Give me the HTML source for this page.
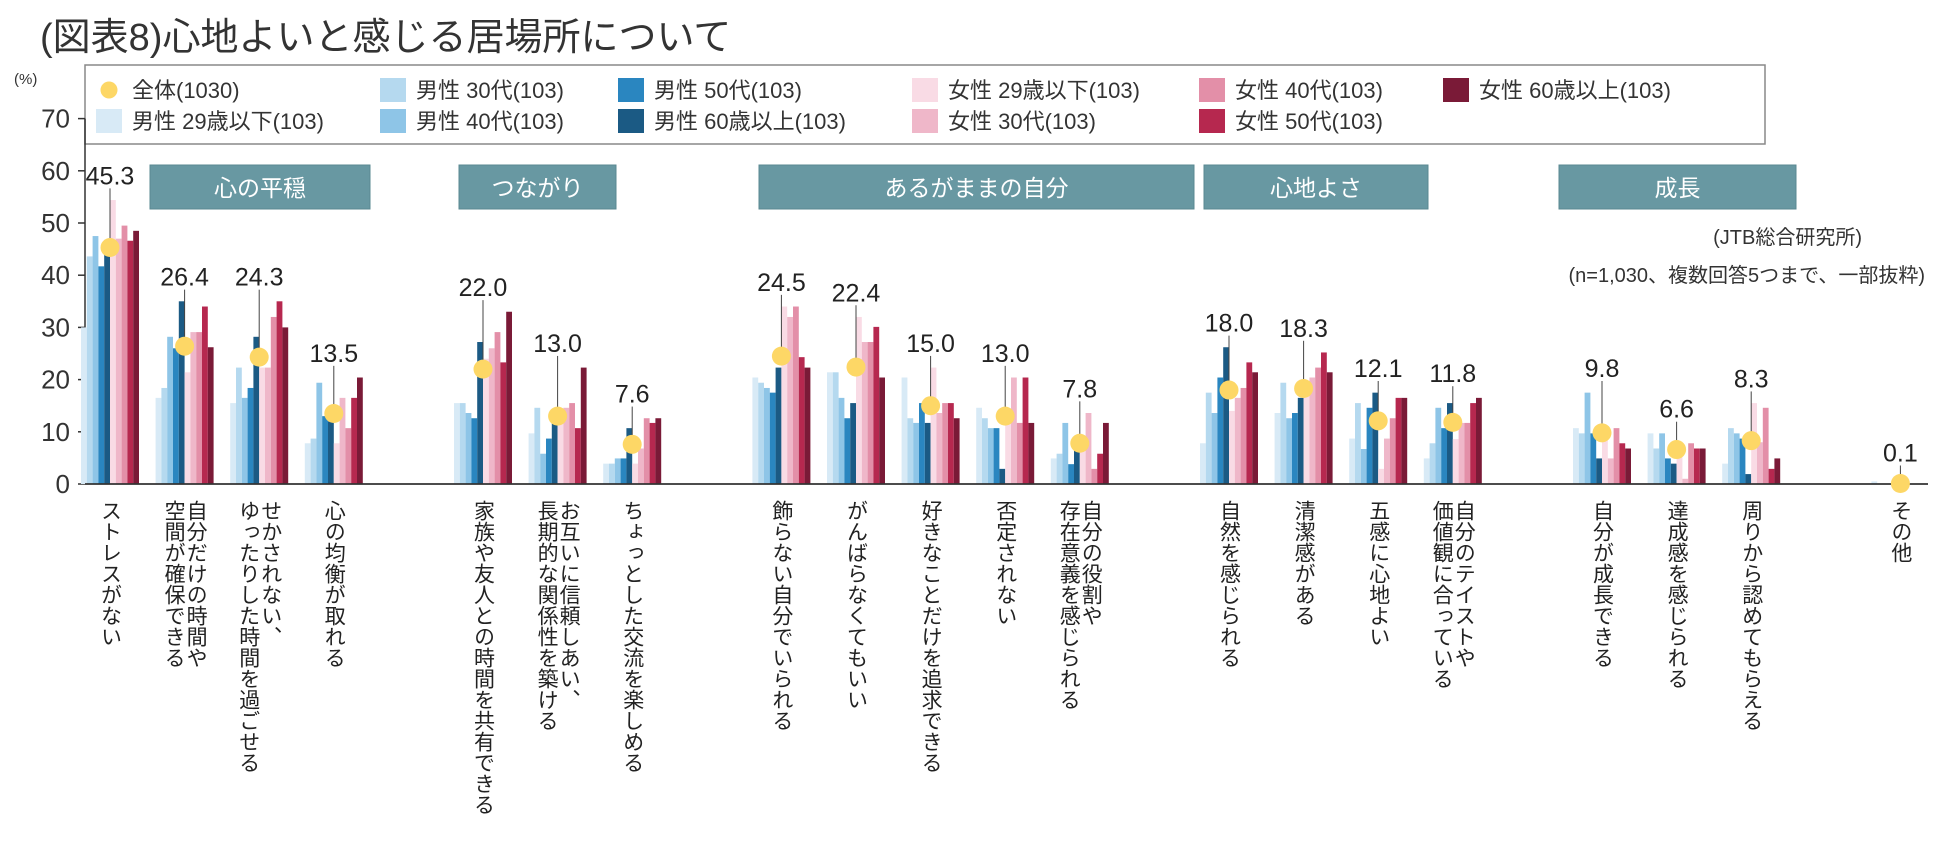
<!DOCTYPE html>
<html><head><meta charset="utf-8">
<style>
html,body{margin:0;padding:0;background:#fff;}
body{width:1950px;height:846px;overflow:hidden;font-family:"Liberation Sans","Noto Sans CJK JP",sans-serif;}
svg text{font-family:"Liberation Sans","Noto Sans CJK JP",sans-serif;}
</style></head>
<body>
<svg id="chart" width="1950" height="846" viewBox="0 0 1950 846" xmlns="http://www.w3.org/2000/svg">
<text x="40" y="50" font-size="38" fill="#333">(図表8)心地よいと感じる居場所について</text>
<text x="14" y="84" font-size="15" fill="#333">(%)</text>
<g id="legend"></g>
<g id="groups"></g>
<text x="1862" y="244" font-size="20" fill="#333" text-anchor="end">(JTB総合研究所)</text>
<text x="1925" y="282" font-size="20" fill="#333" text-anchor="end">(n=1,030、複数回答5つまで、一部抜粋)</text>
<g id="plot"></g>
</svg>
<script>
const categories=["ストレスがない","自分だけの時間や|空間が確保できる","せかされない、|ゆったりした時間を過ごせる","心の均衡が取れる","家族や友人との時間を共有できる","お互いに信頼しあい、|長期的な関係性を築ける","ちょっとした交流を楽しめる","飾らない自分でいられる","がんばらなくてもいい","好きなことだけを追求できる","否定されない","自分の役割や|存在意義を感じられる","自然を感じられる","清潔感がある","五感に心地よい","自分のテイストや|価値観に合っている","自分が成長できる","達成感を感じられる","周りから認めてもらえる","その他"];
const slots=[0,1,2,3,5,6,7,9,10,11,12,13,15,16,17,18,20,21,22,24];
const overall=[45.3,26.4,24.3,13.5,22.0,13.0,7.6,24.5,22.4,15.0,13.0,7.8,18.0,18.3,12.1,11.8,9.8,6.6,8.3,0.1];
const m29=[30,16.5,15.5,7.8,15.5,9.7,3.9,20.4,21.4,20.4,14.6,4.9,7.8,13.6,8.7,4.9,10.7,9.7,3.9,0.5];
const m30=[43.6,18.4,22.3,8.7,15.5,14.6,3.9,19.4,21.4,12.6,12.6,5.8,17.5,19.4,15.5,7.8,9.7,6.8,10.7,0];
const m40=[47.5,28.2,16.5,19.4,13.6,5.8,4.9,18.4,16.5,11.7,10.7,11.7,13.6,12.6,6.7,14.6,17.5,9.7,9.7,0];
const m50=[41.7,26,18.4,13,12.6,8.7,4.9,17.5,12.6,15.5,10.7,3.8,20.4,13.6,14.6,10.7,9.7,4.9,8.7,0];
const m60=[45.9,35,28.2,12,27.2,12,10.7,22.3,15.5,11.7,2.9,6.4,26.2,16.5,17.5,15.5,4.9,3.9,1.9,0];
const f29=[54.4,21.4,22.3,7.8,24,13,3.9,34,32,22.3,13,9,14,19,2.9,8.6,9,6,15.5,0];
const f30=[47,29.1,22.3,16.5,26,14.6,6.8,32,27.2,13.6,20.4,13.6,16.5,20.4,8.7,11.7,4.9,1,8,0];
const f40=[49.5,29.1,32,10.7,29.1,15.5,12.6,34,27.2,15.5,11.7,2.9,18.4,22.3,12.6,11.7,10.7,7.8,14.6,0];
const f50=[46.6,34,35,16.5,23.3,10.7,11.7,24.3,30.1,15.5,20.4,5.8,23.3,25.2,16.5,15.5,7.8,6.8,2.9,0];
const f60=[48.5,26.2,30,20.4,33,22.3,12.6,22.3,20.4,12.6,11.7,11.7,21.4,21.4,16.5,16.5,6.8,6.8,4.9,0];
const series=[m29,m30,m40,m50,m60,f29,f30,f40,f50,f60];
const seriesNames=["男性 29歳以下(103)","男性 30代(103)","男性 40代(103)","男性 50代(103)","男性 60歳以上(103)","女性 29歳以下(103)","女性 30代(103)","女性 40代(103)","女性 50代(103)","女性 60歳以上(103)"];
const colors=["#d8eaf6","#b5d9ef","#8ec5e7","#2a86c0","#1b5a84","#f9dbe5","#efb7c9","#e38fa8","#b6284f","#7a1a37"];
const yTicks=[0,10,20,30,40,50,60,70];
const groupNames=["心の平穏","つながり","あるがままの自分","心地よさ","成長"];
const NS="http://www.w3.org/2000/svg";
function mk(tag,attrs,parent){const e=document.createElementNS(NS,tag);for(const k in attrs)e.setAttribute(k,attrs[k]);parent.appendChild(e);return e;}
const y0=484,yScale=5.22; // px per unit
const Y=v=>y0-v*yScale;
const X=s=>110+s*74.6;
const plot=document.getElementById('plot');
// y axis
const ax=mk('line',{x1:85,y1:Y(70),x2:85,y2:y0,stroke:'#333','stroke-width':1.5},plot);


yTicks.forEach(t=>{
  const tk=mk('line',{x1:78,y1:Y(t),x2:85,y2:Y(t),stroke:'#333','stroke-width':1.5},plot);
  
  
  const tl=mk('text',{x:70,y:Y(t)+9,'font-size':26,fill:'#333','text-anchor':'end'},plot);
  tl.textContent=t;
  
  
});
// bars
const bw=5.8;
categories.forEach((c,i)=>{
  const cx=X(slots[i]);
  const g=mk('g',{},plot);
  
  
  series.forEach((s,j)=>{
    const v=s[i];
    if(v<=0)return;
    const r=mk('rect',{x:cx-5*bw+j*bw,y:Y(v),width:bw,height:v*yScale,fill:colors[j]},g);
    
    
  });
});
// x axis
const xa=mk('line',{x1:85,y1:y0,x2:1928,y2:y0,stroke:'#333','stroke-width':1.8},plot);


// dots + labels
categories.forEach((c,i)=>{
  const cx=X(slots[i]);
  const v=overall[i];
  let mx=v;series.forEach(s=>{if(s[i]>mx)mx=s[i];});
  const ly=Math.min(Y(mx+3),Y(v)-22);
  const ld=mk('line',{x1:cx,y1:ly+4,x2:cx,y2:Y(v)-9,stroke:'#444','stroke-width':1},plot);
  
  
  const d=mk('circle',{cx:cx,cy:Y(v),r:9.5,fill:'#fdd766'},plot);
  
  
  const t=mk('text',{x:cx,y:ly,'font-size':25,fill:'#222','text-anchor':'middle'},plot);
  t.textContent=v.toFixed(1);
  
  
  // category label
  const lines=c.split('|');
  lines.forEach((ln,k)=>{
    const lx=cx+(lines.length===2?(k===0?11:-11):0);
    const ct=mk('text',{x:lx,y:500,'font-size':21,fill:'#222','writing-mode':'vertical-rl','text-orientation':'upright','glyph-orientation-vertical':'0'},plot);
    ct.setAttribute('style','writing-mode:vertical-rl;text-orientation:upright;');
    ct.textContent=ln;
    
    
  });
});
// group headers
const gb=[[150,370],[459,616],[759,1194],[1204,1428],[1559,1796]];
const groups=document.getElementById('groups');
groupNames.forEach((n,i)=>{
  const r=mk('rect',{x:gb[i][0],y:165,width:gb[i][1]-gb[i][0],height:44,fill:'#6898a2',stroke:'#5a8891','stroke-width':1},groups);
  
  
  const t=mk('text',{x:(gb[i][0]+gb[i][1])/2,y:196,'font-size':23,fill:'#fff','text-anchor':'middle'},groups);
  t.textContent=n;
  
  
});
// legend
const lg=document.getElementById('legend');
const box=mk('rect',{x:85,y:65,width:1680,height:79,fill:'#fff',stroke:'#888','stroke-width':1.5},lg);


const legendItems=[["全体(1030)",-1,0,0],[seriesNames[0],0,0,1],[seriesNames[1],1,1,0],[seriesNames[2],2,1,1],[seriesNames[3],3,2,0],[seriesNames[4],4,2,1],[seriesNames[5],5,3,0],[seriesNames[6],6,3,1],[seriesNames[7],7,4,0],[seriesNames[8],8,4,1],[seriesNames[9],9,5,0]];
const colX=[96,380,618,912,1199,1443];
legendItems.forEach(it=>{
  const x=colX[it[2]],y=it[3]?121:90;
  const g=mk('g',{},lg);
  
  
  if(it[1]<0){mk('circle',{cx:x+13,cy:y,r:8.5,fill:'#fdd766'},g);}
  else{mk('rect',{x:x,y:y-12,width:26,height:24,fill:colors[it[1]]},g);}
  const t=mk('text',{x:x+36,y:y+8,'font-size':22,fill:'#333'},g);
  t.textContent=it[0];
});
</script>
</body></html>
